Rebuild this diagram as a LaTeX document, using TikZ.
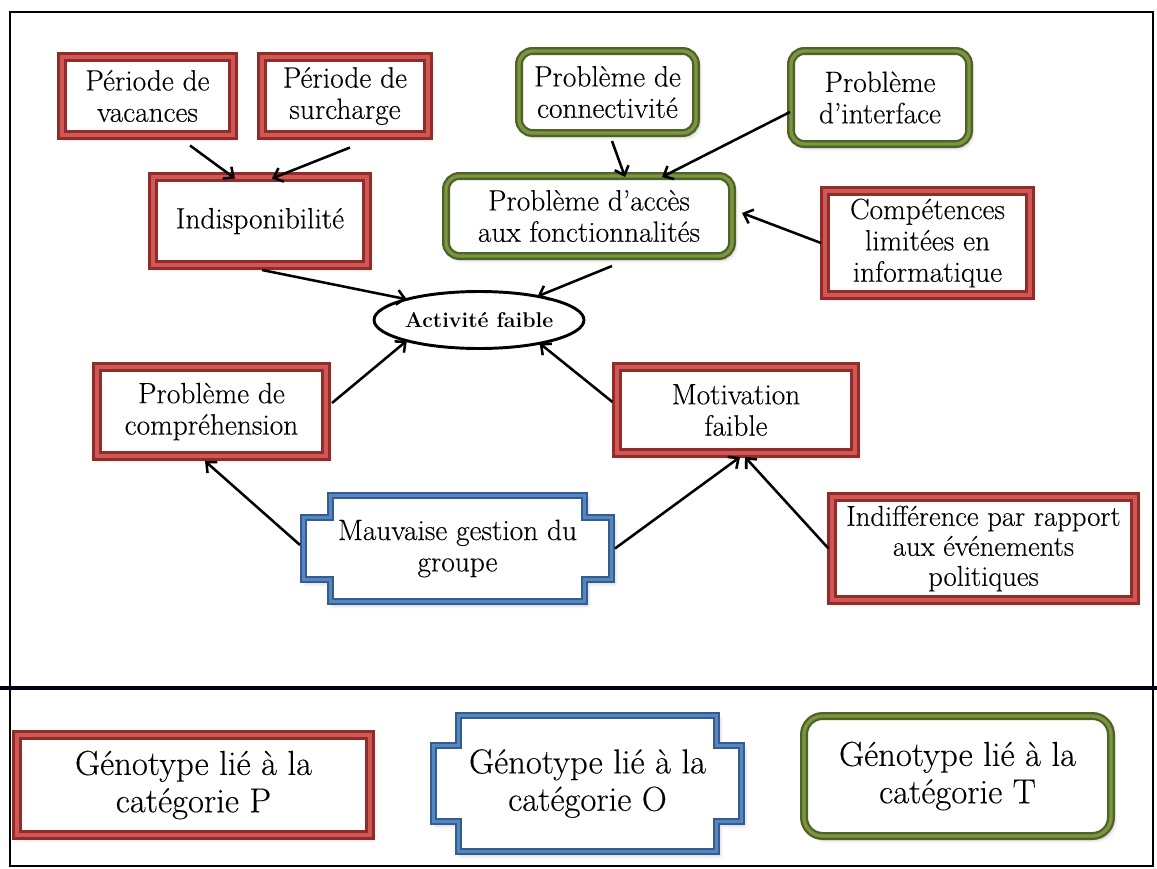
\documentclass[tikz,border=0pt]{standalone}
\usepackage{fontspec}
\setmainfont{Latin Modern Roman}[UprightFeatures={FakeBold=0.25}]
\usetikzlibrary{arrows.meta,shapes.geometric,shadows.blur}
\definecolor{redD}{RGB}{146,44,42}
\definecolor{redL}{RGB}{208,88,84}
\definecolor{greenD}{RGB}{79,98,40}
\definecolor{greenL}{RGB}{122,150,62}
\definecolor{blueD}{RGB}{52,92,142}
\definecolor{blueL}{RGB}{84,134,194}
\tikzset{
  wh/.style 2 args={minimum width=#1*0.75pt, minimum height=#2*0.75pt},
  box/.style={inner sep=0pt, outer sep=0pt, align=center,
    font=\fontsize{22}{23.5}\selectfont},
  soft/.style={blur shadow={shadow xshift=2pt, shadow yshift=-2.5pt,
    shadow blur radius=3pt, shadow opacity=30}},
  redbox/.style={box, rectangle, fill=white, draw=redD, line width=7.3pt,
    soft, postaction={draw=redL, line width=3pt}},
  greenbox/.style={box, rectangle, rounded corners=10pt, fill=white,
    draw=greenD, line width=6pt, soft,
    postaction={draw=greenL, line width=2.5pt}},
  notchtext/.style={box},
  bluepath/.style={fill=white, draw=blueD, line width=5.6pt, line join=miter,
    soft, postaction={draw=blueL, line width=2.3pt}},
  arr/.style={line width=1.9pt,
    -{Straight Barb[length=6pt, width=11pt, line width=1.9pt]}},
  legend/.style={font=\fontsize{26}{28}\selectfont}
}
% notched frame round a centre point:
% #1 centre, #2 half width, #3 half height, #4 inset, #5 step height
\newcommand\notchframe[5]{%
  \draw[bluepath]
    ([shift={({-#2+#4},{-#3})}]#1) -- ([shift={({#2-#4},{-#3})}]#1)
    -- ([shift={({#2-#4},{-#3+#5})}]#1) -- ([shift={(#2,{-#3+#5})}]#1)
    -- ([shift={(#2,{#3-#5})}]#1) -- ([shift={({#2-#4},{#3-#5})}]#1)
    -- ([shift={({#2-#4},#3)}]#1) -- ([shift={({-#2+#4},#3)}]#1)
    -- ([shift={({-#2+#4},{#3-#5})}]#1) -- ([shift={(-#2,{#3-#5})}]#1)
    -- ([shift={(-#2,{-#3+#5})}]#1) -- ([shift={({-#2+#4},{-#3+#5})}]#1)
    -- cycle;}
\begin{document}
\begin{tikzpicture}[x=0.75pt,y=-0.75pt]
\useasboundingbox (0,0) rectangle (1157,868);
% outer frame and legend separator
\draw[line width=1.4pt] (10,12) rectangle (1153,866);
\draw[line width=2.8pt, black!90!blue] (0,688) -- (1157,688);

% causes
\node[redbox, wh={171}{78}] (vac) at (147.5,96) {Période de\\vacances};
\node[redbox, wh={166}{78}] (sur) at (345,96) {Période de\\surcharge};
\node[redbox, wh={214}{88}] (ind) at (260,221) {Indisponibilité};
\node[greenbox, wh={177}{82}] (con) at (607.5,92) {Problème de\\connectivité};
\node[greenbox, wh={178}{93}] (int) at (880,97.5) {Problème\\d'interface};
\node[greenbox, wh={286}{80}] (acc) at (589,216) {Problème d'accès\\aux fonctionnalités};
\node[redbox, wh={205}{104}] (comp) at (927.5,243) {Compétences\\limitées en\\informatique};
\node[ellipse, draw, line width=2.2pt, fill=white, inner sep=0pt, outer sep=0pt,
  wh={207}{57}, font=\bfseries\fontsize{16}{18}\selectfont] (act) at (479,320) {Activité faible};
\node[redbox, wh={229}{89}] (compr) at (211.5,411.5) {Problème de\\compréhension};
\node[redbox, wh={238}{86}] (mot) at (736,410) {Motivation\\faible};
\coordinate (mauvc) at (457.5,548.5);
\notchframe{mauvc}{154}{53}{27}{22}
\node[notchtext, wh={308}{106}] (mauv) at (mauvc) {Mauvaise gestion du\\groupe};
\node[redbox, wh={303}{103}, font=\fontsize{21.5}{22.5}\selectfont] (indf) at (983.5,548.5)
  {Indifférence par rapport\\aux événements\\politiques};

% influences
\draw[arr] ([shift={(42.5,10.5)}]vac.south) -- ([shift={(-25,1.5)}]ind.north);
\draw[arr] ([shift={(5,12.5)}]sur.south) -- ([shift={(12,1.5)}]ind.north);
\draw[arr] ([shift={(2,5)}]ind.south) -- (act.164);
\draw[arr] ([shift={(4.5,8)}]con.south) -- ([shift={(36,1)}]acc.north);
\draw[arr] ([shift={(-1,14.5)}]int.west) -- ([shift={(73,1)}]acc.north);
\draw[arr] ([shift={(-4,0)}]comp.west) -- ([shift={(10,-3)}]acc.east);
\draw[arr] ([shift={(23,10)}]acc.south) -- (act.22);
\draw[arr] ([shift={(6,-8.5)}]compr.east) -- (act.196);
\draw[arr] ([shift={(-4.5,-8)}]mot.west) -- (act.339);
\draw[arr] ([shift={(-3.5,-3.5)}]mauv.west) -- ([shift={(-6.5,5)}]compr.south);
\draw[arr] ([shift={(3.5,0)}]mauv.east) -- ([shift={(4,4)}]mot.south);
\draw[arr] ([shift={(-3.5,0)}]indf.west) -- ([shift={(9,4)}]mot.south);

% legend
\node[redbox, legend, wh={353}{100}] (legP) at (193.5,785) {Génotype lié à la\\catégorie P};
\coordinate (legOc) at (587.5,783.5);
\notchframe{legOc}{154}{68}{25}{30}
\node[notchtext, legend, wh={308}{136}] (legO) at (legOc) {Génotype lié à la\\catégorie O};
\node[greenbox, legend, rounded corners=14pt, wh={307}{120}] (legT) at (957.5,776) {Génotype lié à la\\catégorie T};
\end{tikzpicture}
\end{document}
